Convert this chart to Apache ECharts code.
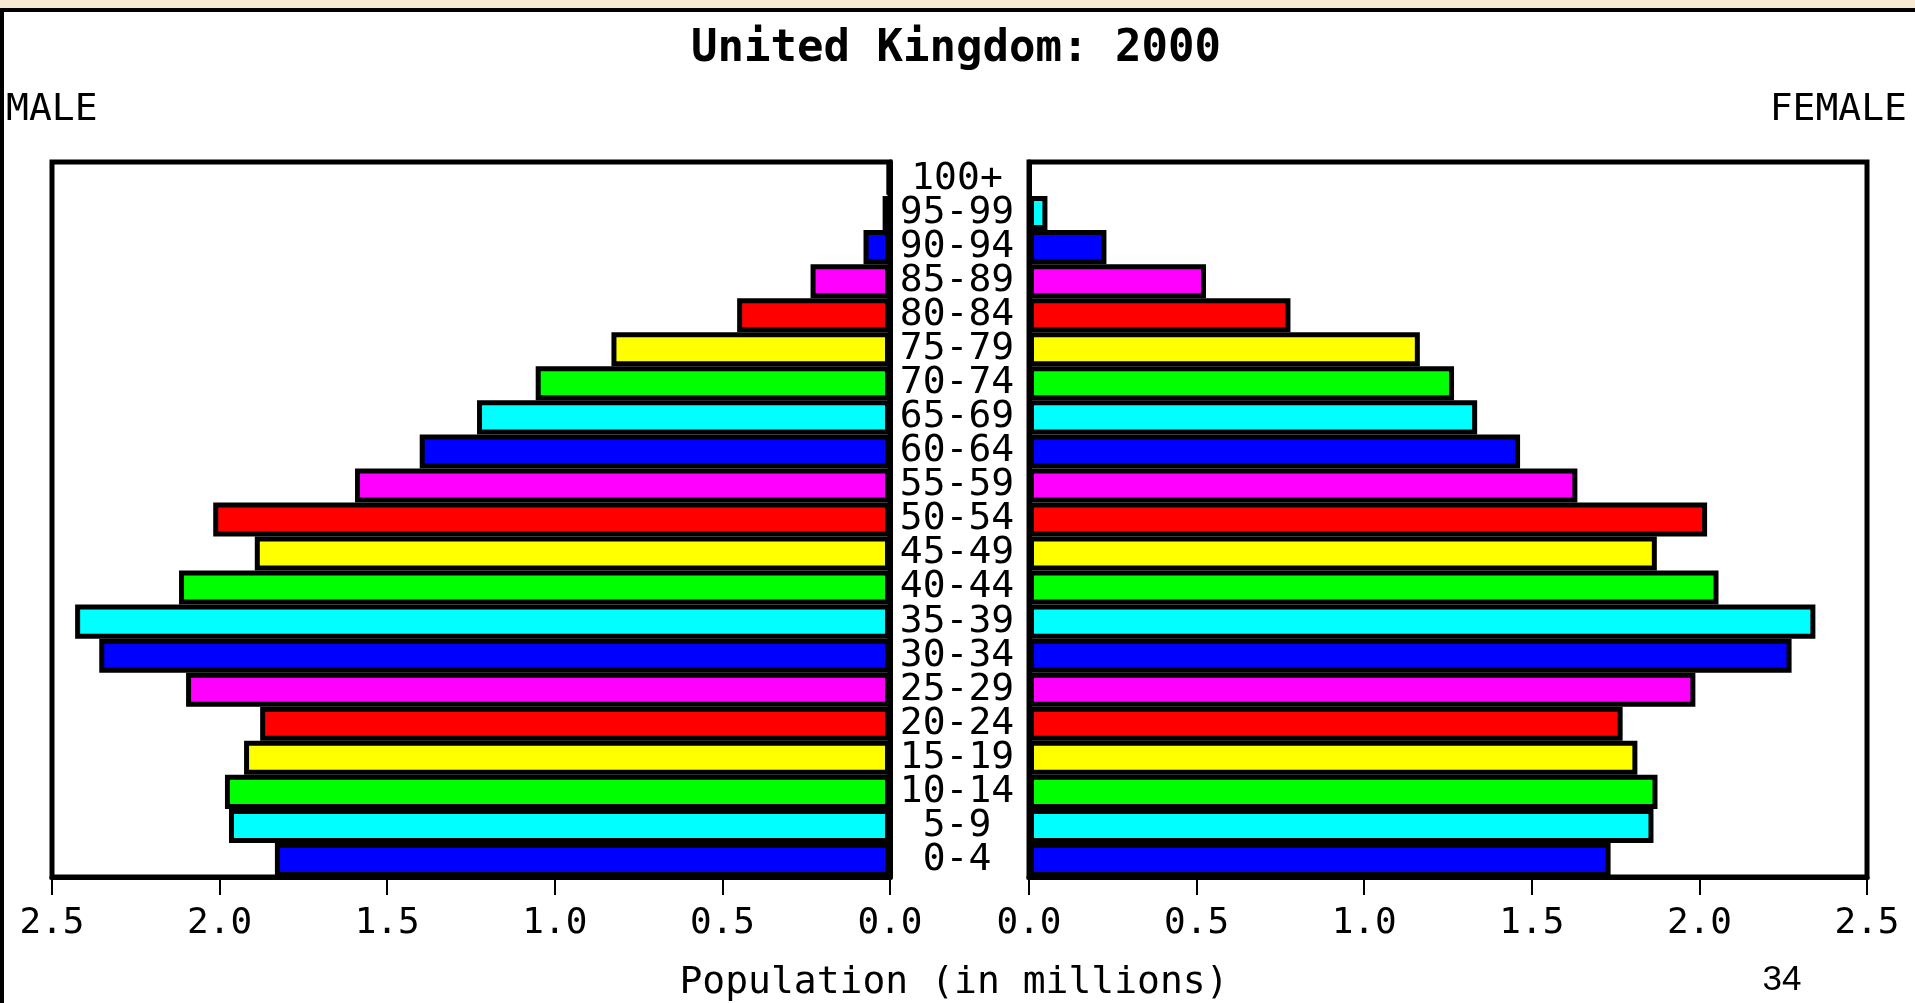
<!DOCTYPE html>
<html>
<head>
<meta charset="utf-8">
<script src="https://cdn.jsdelivr.net/npm/echarts@6/dist/echarts.min.js"></script>
<style>
html,body{margin:0;padding:0;background:#fff;}
#chart{width:1915px;height:1003px;}
</style>
</head>
<body>
<div id="chart"></div>
<script>
// Age groups, bottom to top
var ageGroups = ['0-4','5-9','10-14','15-19','20-24','25-29','30-34','35-39','40-44','45-49','50-54','55-59','60-64','65-69','70-74','75-79','80-84','85-89','90-94','95-99','100+'];
// Population in millions
var maleValues = [1.835,1.972,1.984,1.927,1.879,2.100,2.359,2.431,2.121,1.895,2.019,1.596,1.403,1.232,1.057,0.831,0.456,0.237,0.079,0.022,0.007];
var femaleValues = [1.735,1.863,1.875,1.815,1.771,1.988,2.275,2.346,2.057,1.873,2.023,1.636,1.465,1.337,1.268,1.166,0.780,0.528,0.231,0.055,0.003];
var tickValues = [0,0.5,1.0,1.5,2.0,2.5];
var palette = ['#0000ff','#00ffff','#00ff00','#ffff00','#ff0000','#ff00ff'];

var mono = 'DejaVu Sans Mono';
var chart = echarts.init(document.getElementById('chart'), null, {renderer:'canvas'});

function xAxisCfg(gi, inverse){
  return {
    type:'value', gridIndex:gi, min:0, max:2.5, interval:0.5, inverse:inverse,
    axisLine:{show:true, onZero:false, lineStyle:{color:'#000', width:5}},
    axisTick:{show:true, inside:false, length:18, lineStyle:{color:'#000', width:2}},
    axisLabel:{show:true, margin:29, color:'#000', fontFamily:mono, fontSize:36,
      formatter:function(v){return v.toFixed(1);}},
    splitLine:{show:false}
  };
}
function barSeries(xi, values){
  return {
    type:'bar', xAxisIndex:xi, yAxisIndex:xi, data:values,
    barCategoryGap:'0%', barWidth:'100%',
    itemStyle:{
      color:function(p){return palette[p.dataIndex % palette.length];},
      borderColor:'#000', borderWidth:5
    },
    emphasis:{disabled:true},
    animation:false
  };
}

chart.setOption({
  animation:false,
  backgroundColor:'#ffffff',
  grid:[
    {left:52, right:1025, top:162, bottom:126, show:true, borderColor:'#000', borderWidth:5, backgroundColor:'transparent'},
    {left:1029, right:48, top:162, bottom:126, show:true, borderColor:'#000', borderWidth:5, backgroundColor:'transparent'}
  ],
  xAxis:[ xAxisCfg(0,true), xAxisCfg(1,false) ],
  yAxis:[
    {type:'category', gridIndex:0, data:ageGroups, position:'right',
     axisLine:{show:true, lineStyle:{color:'#000', width:5}},
     axisTick:{show:false},
     axisLabel:{show:true, interval:0, align:'center', margin:67, color:'#000', fontFamily:mono, fontSize:38}},
    {type:'category', gridIndex:1, data:ageGroups, position:'left',
     axisLine:{show:true, lineStyle:{color:'#000', width:5}},
     axisTick:{show:false}, axisLabel:{show:false}}
  ],
  series:[ barSeries(0, maleValues), barSeries(1, femaleValues) ],
  graphic:[
    {type:'rect', left:0, top:0, shape:{width:1915, height:8}, style:{fill:'#f6ead2'}, silent:true},
    {type:'rect', left:0, top:8, shape:{width:1915, height:4}, style:{fill:'#000'}, silent:true},
    {type:'rect', left:0, top:8, shape:{width:4, height:995}, style:{fill:'#000'}, silent:true},
    {type:'text', x:956, y:50, style:{text:'United Kingdom: 2000', fill:'#000', font:'bold 44px "DejaVu Sans Mono"', textAlign:'center', textVerticalAlign:'middle'}, silent:true},
    {type:'text', x:6, y:110, style:{text:'MALE', fill:'#000', font:'38px "DejaVu Sans Mono"', textAlign:'left', textVerticalAlign:'middle'}, silent:true},
    {type:'text', x:1907, y:110, style:{text:'FEMALE', fill:'#000', font:'38px "DejaVu Sans Mono"', textAlign:'right', textVerticalAlign:'middle'}, silent:true},
    {type:'text', x:954, y:983, style:{text:'Population (in millions)', fill:'#000', font:'38px "DejaVu Sans Mono"', textAlign:'center', textVerticalAlign:'middle'}, silent:true},
    {type:'text', x:1782, y:980, style:{text:'34', fill:'#000', font:'35px "Liberation Sans"', textAlign:'center', textVerticalAlign:'middle'}, silent:true}
  ]
});
</script>
</body>
</html>
